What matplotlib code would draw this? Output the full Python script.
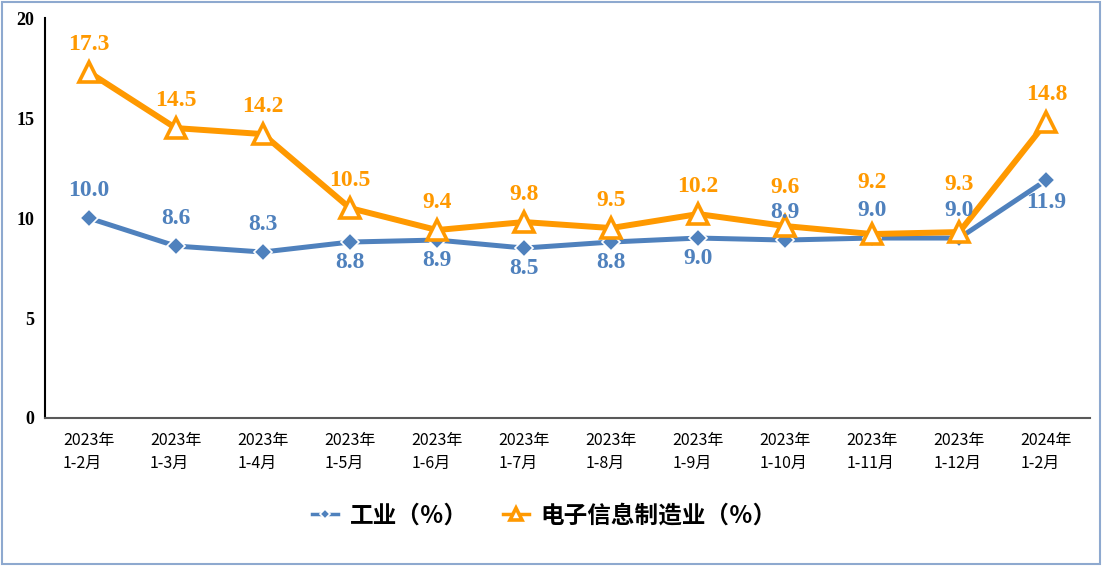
import matplotlib
matplotlib.use("Agg")
import matplotlib.pyplot as plt
from matplotlib.patches import Rectangle

plt.rcParams["font.family"] = ["Noto Sans CJK SC", "DejaVu Sans"]

periods = ["2023年\n1-2月", "2023年\n1-3月", "2023年\n1-4月", "2023年\n1-5月",
           "2023年\n1-6月", "2023年\n1-7月", "2023年\n1-8月", "2023年\n1-9月",
           "2023年\n1-10月", "2023年\n1-11月", "2023年\n1-12月", "2024年\n1-2月"]
industry = [10.0, 8.6, 8.3, 8.8, 8.9, 8.5, 8.8, 9.0, 8.9, 9.0, 9.0, 11.9]
electronics = [17.3, 14.5, 14.2, 10.5, 9.4, 9.8, 9.5, 10.2, 9.6, 9.2, 9.3, 14.8]
# label offsets in points (positive = above the point)
industry_off = [20, 20, 20, -15, -15, -15, -15, -15, 20, 20, 20, -16]
electronics_off = [20, 20, 20, 20, 20, 20, 20, 20, 28, 37, 34, 20]

BLUE = "#4F81BD"
ORANGE = "#FF9900"

fig = plt.figure(figsize=(11.02, 5.66), dpi=100)
ax = fig.add_axes([0.041, 0.2615, 0.948, 0.7065])

x = list(range(len(periods)))
ax.plot(x, industry, color=BLUE, lw=3.6, marker="D", ms=9,
        mfc=BLUE, mec="white", mew=1.2, label="工业（％）", zorder=3)
ax.plot(x, electronics, color=ORANGE, lw=4.3, marker="^", ms=14,
        mfc="white", mec=ORANGE, mew=2.6, label="电子信息制造业（％）", zorder=4)

lbl_font = dict(family="Liberation Serif", weight="bold", size=17)
for i, (v, off) in enumerate(zip(electronics, electronics_off)):
    ax.annotate(f"{v:.1f}", (i, v), xytext=(0, off), textcoords="offset points",
                ha="center", va="center", color=ORANGE, zorder=5, **lbl_font)
for i, (v, off) in enumerate(zip(industry, industry_off)):
    ax.annotate(f"{v:.1f}", (i, v), xytext=(0, off), textcoords="offset points",
                ha="center", va="center", color=BLUE, zorder=5, **lbl_font)

ax.set_xlim(-0.5, len(periods) - 0.5)
ax.set_ylim(0, 20)
ax.set_yticks([0, 5, 10, 15, 20])
ax.set_yticklabels(["0", "5", "10", "15", "20"], family="Liberation Serif",
                   weight="bold", size=13)
ax.set_xticks(x)
ax.set_xticklabels(periods, size=11.5, ha="center", multialignment="left",
                   linespacing=1.5)
ax.tick_params(axis="both", length=0)
ax.tick_params(axis="x", pad=10)
ax.tick_params(axis="y", pad=8)

for side in ["top", "right"]:
    ax.spines[side].set_visible(False)
ax.spines["left"].set_color("black")
ax.spines["left"].set_linewidth(1.5)
ax.spines["bottom"].set_color("#595959")
ax.spines["bottom"].set_linewidth(1.5)

leg = fig.legend(loc="center", bbox_to_anchor=(0.494, 0.089), ncol=2, frameon=False,
                 prop=dict(family="Noto Sans CJK SC", weight="bold", size=17),
                 handlelength=1.1, columnspacing=1.5, handletextpad=0.5,
                 markerscale=0.6)
for h in leg.legend_handles:
    h.set_linewidth(2.5)

fig.patches.append(Rectangle((0.002, 0.003), 0.996, 0.994, transform=fig.transFigure,
                             fill=False, edgecolor="#8EA9CF", lw=1.5))

fig.savefig("out.png", dpi=100)
